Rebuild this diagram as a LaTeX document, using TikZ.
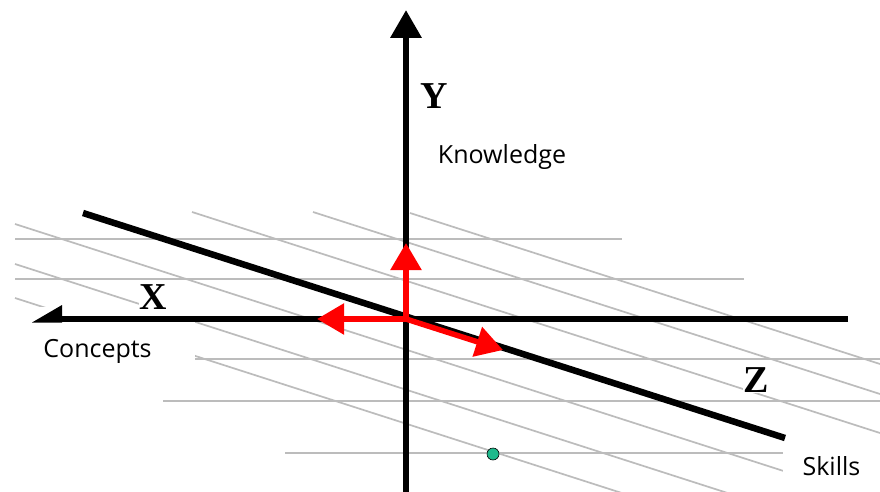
\documentclass[tikz,border=0pt]{standalone}
\usepackage{fontspec}
\setmainfont{Open Sans}
\newfontfamily\axisfont{Liberation Serif}
\usetikzlibrary{arrows.meta}
\definecolor{gridgray}{RGB}{188,188,188}
\definecolor{dotgreen}{RGB}{30,185,140}
\begin{document}
\begin{tikzpicture}[x=1pt,y=-1pt,
  gridline/.style={draw=gridgray,line width=1.7pt},
  axisline/.style={draw=black,line width=6.5pt},
  redarrow/.style={draw=red,line width=5.5pt,-{Triangle[length=27pt,width=30pt]}},
  axislabel/.style={font=\axisfont\bfseries\fontsize{38}{38}\selectfont,fill=white,inner sep=0.5pt},
  textlabel/.style={font=\fontsize{25}{25}\selectfont,fill=white,inner sep=0pt}
]
\useasboundingbox (0,0) rectangle (880,492);
\fill[white] (0,0) rectangle (880,492);
% grid of the XZ plane
\begin{scope}
\clip (0,0) rectangle (880,492);
\draw[gridline] (15,239) -- (622,239);
\draw[gridline] (15,279) -- (744,279);
\draw[gridline] (195,359) -- (880,359);
\draw[gridline] (163,401) -- (880,401);
\draw[gridline] (285,453) -- (880,453);
\draw[gridline] (410,213) -- (880,364);
\draw[gridline] (313,212) -- (880,394);
\draw[gridline] (192,212) -- (880,433);
\draw[gridline] (15,224) -- (880,502);
\draw[gridline] (15,264) -- (880,542);
\draw[gridline] (15,298) -- (880,576);
\end{scope}
% labels (white backgrounds hide parts of the grid)
\node[textlabel,minimum width=195pt,minimum height=88pt] (concepts) at (97.5,351) {Concepts};
\node[textlabel,minimum width=97pt,minimum height=52pt] (skills) at (831.5,466) {Skills};
\node[textlabel] (knowledge) at (502,157) {Knowledge};
\node[axislabel] (ylab) at (434,96) {Y};
\node[axislabel] (xlab) at (153,297) {X};
\node[axislabel] (zlab) at (756,380) {Z};
% axes
\coordinate (O) at (406,319);
\coordinate (ytop) at (406,10);
\coordinate (ybot) at (406,492);
\coordinate (xright) at (848,319);
\coordinate (xhead) at (62,319);
\coordinate (xtip) at (32,322.5);
\coordinate (xbarb) at (62,305);
\coordinate (xbase) at (62,322.5);
\coordinate (zstart) at (83,213);
\coordinate (zend) at (785,438);
\draw[line width=6.5pt,-{Triangle[length=28pt,width=30pt]}] (ybot) -- (ytop);
\draw[axisline] (xright) -- (xhead);
\fill[black] (xtip) -- (xbarb) -- (xbase) -- cycle;
\draw[axisline] (zstart) -- (zend);
% red unit arrows
\coordinate (rY) at (406,243);
\coordinate (rX) at (317,319);
\coordinate (rZ) at (503,350);
\draw[redarrow] (O) -- (rY);
\draw[redarrow] (O) -- (rX);
\draw[redarrow] (O) -- (rZ);
% point
\node[circle,fill=dotgreen,draw=black,line width=0.6pt,inner sep=0pt,minimum size=12pt] (dot) at (493,454) {};
\end{tikzpicture}
\end{document}
